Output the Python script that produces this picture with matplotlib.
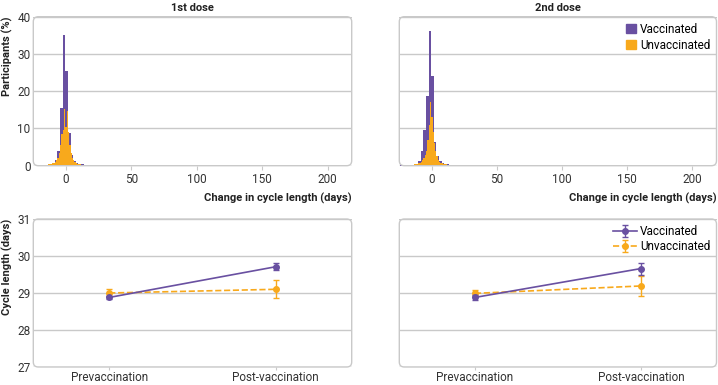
import matplotlib
matplotlib.use("Agg")
import matplotlib.pyplot as plt
from matplotlib.patches import FancyBboxPatch, Patch
import numpy as np

plt.rcParams['font.family'] = ['Roboto', 'DejaVu Sans']

PURPLE = '#6950a1'
ORANGE = '#f8a91c'
GRID = '#c9c9c9'
TXT = '#333333'
FS = 8

# ---------------- data ----------------
panel_titles = ["1st dose", "2nd dose"]
series_names = ["Vaccinated", "Unvaccinated"]

# Vaccinated histograms: 2-day bins (bin centres, % participants)
vacc_centers = [-23.5, -21.5, -19.5, -17.5, -15.5, -13.5, -11.5, -9.5, -7.5, -5.5,
                -3.5, -1.5, 0.5, 2.5, 4.5, 6.5, 8.5, 10.5, 12.5, 14.5,
                16.5, 18.5, 20.5, 22.5, 24.5, 26.5, 28.5, 30.5, 32.5, 34.5,
                36.5, 38.5, 40.5, 42.5, 44.5, 46.5, 48.5, 50.5, 52.5, 54.5,
                56.5, 58.5, 60.5, 62.5, 64.5, 66.5, 68.5, 74.5, 78.5, 82.5,
                84.5, 90.5, 114.5, 212.5]
vacc_dose1 = [0.05, 0.1, 0.1, 0.15, 0.2, 0.3, 0.4, 0.6, 1.5, 4.0,
              15.6, 35.0, 25.5, 8.8, 3.0, 1.2, 0.6, 0.5, 0.4, 0.3,
              0.3, 0.25, 0.25, 0.2, 0.2, 0.2, 0.2, 0.2, 0.2, 0.2,
              0.2, 0.2, 0.25, 0.25, 0.2, 0.25, 0.2, 0.2, 0.2, 0.2,
              0.2, 0.2, 0.2, 0.15, 0.15, 0.1, 0.0, 0.2, 0.0, 0.2,
              0.2, 0.15, 0.15, 0.2]
vacc_dose2 = [0.2, 0.1, 0.1, 0.15, 0.2, 0.3, 0.4, 1.2, 4.0, 9.5,
              18.6, 36.2, 24.0, 6.3, 2.5, 1.2, 0.6, 0.5, 0.4, 0.3,
              0.3, 0.25, 0.25, 0.2, 0.2, 0.2, 0.2, 0.25, 0.2, 0.2,
              0.2, 0.2, 0.2, 0.2, 0.2, 0.2, 0.2, 0.25, 0.2, 0.2,
              0.15, 0.15, 0.2, 0.15, 0.1, 0.15, 0.15, 0.2, 0.15, 0.2,
              0.0, 0.15, 0.15, 0.2]

# Unvaccinated histograms: 1-day bins
unvac_centers = [-20, -19, -18, -17, -16, -15, -14, -13, -12, -11,
                 -10, -9, -8, -7, -6, -5, -4, -3, -2, -1,
                 0, 1, 2, 3, 4, 5, 6, 7, 8, 9,
                 10, 11, 12, 13, 14, 15, 16, 17, 18, 19,
                 20, 21, 22, 23, 24, 25, 26, 27, 28, 29,
                 30, 31, 32, 33, 34, 35]
unvac_dose1 = [0.1, 0.1, 0.15, 0.2, 0.2, 0.25, 0.3, 0.35, 0.4, 0.5,
               0.6, 0.8, 1.0, 1.5, 2.2, 3.5, 5.5, 8.5, 9.5, 15.2,
               10.5, 14.6, 9.0, 5.5, 3.5, 2.2, 1.4, 0.9, 0.7, 0.5,
               0.4, 0.35, 0.3, 0.3, 0.25, 0.25, 0.25, 0.2, 0.2, 0.2,
               0.2, 0.2, 0.2, 0.2, 0.2, 0.2, 0.2, 0.2, 0.2, 0.2,
               0.2, 0.2, 0.2, 0.15, 0.15, 0.1]
unvac_dose2 = [0.1, 0.1, 0.15, 0.2, 0.2, 0.25, 0.3, 0.35, 0.4, 0.5,
               0.6, 0.8, 1.0, 1.4, 2.0, 2.8, 4.0, 7.0, 11.0, 17.0,
               13.0, 9.0, 6.0, 4.0, 2.5, 1.5, 1.0, 0.8, 0.6, 0.5,
               0.4, 0.35, 0.3, 0.3, 0.25, 0.25, 0.25, 0.2, 0.2, 0.2,
               0.2, 0.2, 0.2, 0.2, 0.2, 0.2, 0.2, 0.2, 0.2, 0.2,
               0.15, 0.15, 0.15, 0.15, 0.1, 0.1]

hist_xticks = [0, 50, 100, 150, 200]
hist_yticks = [0, 10, 20, 30, 40]

# Cycle length means and 95% CI half-widths
periods = ["Prevaccination", "Post-vaccination"]
vacc_mean_d1 = [28.88, 29.71]
vacc_err_d1 = [0.05, 0.09]
unvac_mean_d1 = [29.00, 29.10]
unvac_err_d1 = [0.10, 0.24]
vacc_mean_d2 = [28.88, 29.66]
vacc_err_d2 = [0.06, 0.16]
unvac_mean_d2 = [28.99, 29.19]
unvac_err_d2 = [0.08, 0.27]
cycle_yticks = [27, 28, 29, 30, 31]

# ---------------- figure ----------------
W, H = 718, 385
fig = plt.figure(figsize=(W / 100, H / 100), dpi=100)

def px_axes(x0, y0, x1, y1):
    return fig.add_axes([x0 / W, 1 - y1 / H, (x1 - x0) / W, (y1 - y0) / H])

def frame(ax, wpx, hpx):
    for s in ax.spines.values():
        s.set_visible(False)
    r = 5.0
    box = FancyBboxPatch((0, 0), 1, 1,
                         boxstyle=f"round,pad=0,rounding_size={r / wpx}",
                         mutation_aspect=wpx / hpx,
                         transform=ax.transAxes, fc='none', ec=GRID,
                         lw=1.0, clip_on=False, zorder=5)
    ax.add_patch(box)
    ax.set_facecolor('none')
    ax.yaxis.grid(True, color=GRID, lw=1.0)
    ax.set_axisbelow(True)
    ax.tick_params(axis='y', length=0, labelsize=FS + 0.5, colors=TXT, pad=2)
    ax.tick_params(axis='x', length=3, width=0.8, color=GRID,
                   labelsize=FS + 0.5, labelcolor=TXT, pad=2)

xl, xr = 33.3, 351.7
xl2, xr2 = 399.3, 716.5
top_y0, top_y1 = 16.7, 165.7
bot_y0, bot_y1 = 219.0, 367.0

ax_h1 = px_axes(xl, top_y0, xr, top_y1)
ax_h2 = px_axes(xl2, top_y0, xr2, top_y1)
ax_c1 = px_axes(xl, bot_y0, xr, bot_y1)
ax_c2 = px_axes(xl2, bot_y0, xr2, bot_y1)

for ax, vd, ud, title in [(ax_h1, vacc_dose1, unvac_dose1, panel_titles[0]),
                          (ax_h2, vacc_dose2, unvac_dose2, panel_titles[1])]:
    frame(ax, xr - xl, top_y1 - top_y0)
    ax.bar(vacc_centers, vd, width=2.0, color=PURPLE, lw=0, zorder=2,
           label=series_names[0])
    ax.bar(unvac_centers, ud, width=1.0, color=ORANGE, lw=0, zorder=3,
           label=series_names[1])
    ax.set_xlim(-25, 218.5)
    ax.set_ylim(0, 40)
    ax.set_xticks(hist_xticks)
    ax.set_yticks(hist_yticks)
    ax.set_title(title, fontsize=FS, fontweight='bold', color='#222222', pad=4)
    ax.set_xlabel("Change in cycle length (days)", fontsize=FS,
                  fontweight='bold', color='#222222', loc='right', labelpad=5)

ax_h1.set_ylabel("Participants (%)", fontsize=FS, fontweight='bold',
                 color='#222222', loc='top', labelpad=3)
ax_h2.tick_params(axis='y', labelleft=False)
handles = [Patch(color=PURPLE), Patch(color=ORANGE)]
ax_h2.legend(handles, series_names, loc='upper right', frameon=False,
             fontsize=FS + 0.5, handlelength=0.8, handleheight=0.8,
             handletextpad=0.4, labelspacing=0.25, borderaxespad=0.3,
             borderpad=0.2)

xpos = np.arange(len(periods))
for ax, vm, ve, um, ue in [(ax_c1, vacc_mean_d1, vacc_err_d1, unvac_mean_d1, unvac_err_d1),
                           (ax_c2, vacc_mean_d2, vacc_err_d2, unvac_mean_d2, unvac_err_d2)]:
    frame(ax, xr - xl, bot_y1 - bot_y0)
    ax.errorbar(xpos, vm, yerr=ve, color=PURPLE, lw=1.2, marker='o', ms=4,
                capsize=2.5, capthick=1, elinewidth=1, zorder=4,
                label=series_names[0])
    ax.errorbar(xpos, um, yerr=ue, color=ORANGE, lw=1.2, ls='--', marker='o',
                ms=4, capsize=2.5, capthick=1, elinewidth=1, zorder=3,
                label=series_names[1])
    ax.set_xlim(-0.456, 1.456)
    ax.set_ylim(27, 31)
    ax.set_yticks(cycle_yticks)
    ax.set_xticks(xpos)
    ax.set_xticklabels(periods)
    ax.tick_params(axis='x', length=2, pad=1)

ax_c1.set_ylabel("Cycle length (days)", fontsize=FS, fontweight='bold',
                 color='#222222', loc='top', labelpad=3)
ax_c2.tick_params(axis='y', labelleft=False)
ax_c2.legend(loc='upper right', frameon=False, fontsize=FS + 0.5,
             handlelength=2.0, handletextpad=0.3, labelspacing=0.2,
             borderaxespad=0.3, borderpad=0.2)

fig.savefig("out.png", dpi=100)
